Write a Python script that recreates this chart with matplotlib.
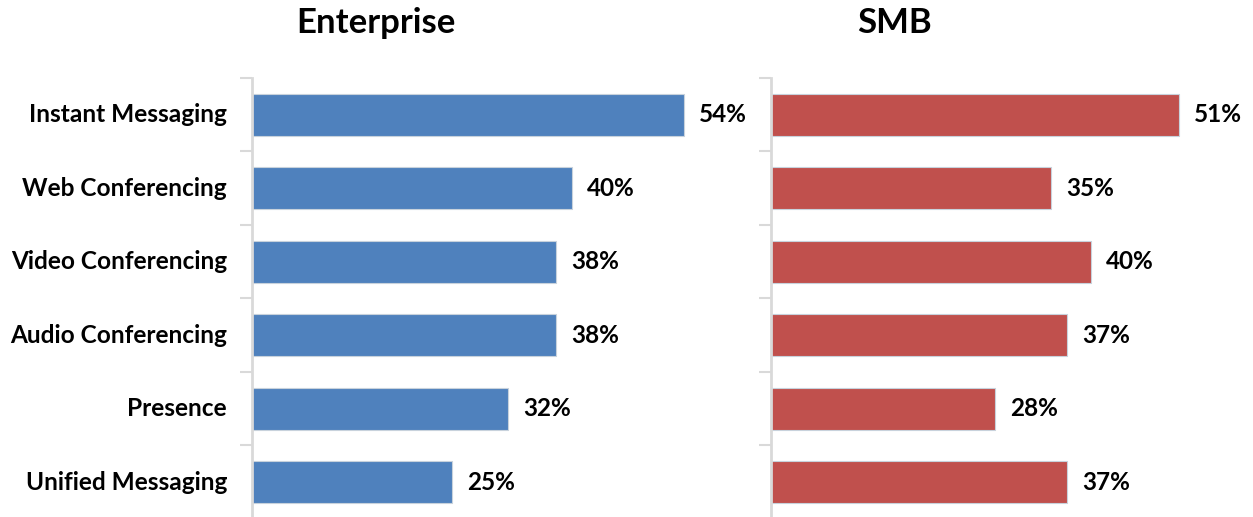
import matplotlib
matplotlib.use("Agg")
import matplotlib.pyplot as plt

categories = ["Instant Messaging", "Web Conferencing", "Video Conferencing",
              "Audio Conferencing", "Presence", "Unified Messaging"]
enterprise = [54, 40, 38, 38, 32, 25]
smb = [51, 35, 40, 37, 28, 37]

plt.rcParams["font.family"] = ["Lato", "DejaVu Sans"]

W, H = 1253, 517
fig = plt.figure(figsize=(W / 100, H / 100), dpi=100)


def panel(x0, values, color, show_labels):
    ax = fig.add_axes([x0 / W, (H - 519) / H, 480 / W, (519 - 78) / H])
    n = len(values)
    ys = list(range(n))
    ax.barh(ys, values, height=0.57, color=color, edgecolor="#c8d2dc", linewidth=0.8)
    ax.set_xlim(0, 60)
    ax.set_ylim(n - 0.5, -0.5)
    for y, v in zip(ys, values):
        ax.text(v + 1.85, y, f"{v}%", va="center", ha="left",
                fontsize=17.5, fontweight="bold", color="black")
    for s in ["top", "right", "bottom"]:
        ax.spines[s].set_visible(False)
    ax.spines["left"].set_color("#d9d9d9")
    ax.spines["left"].set_linewidth(2)
    ax.set_xticks([])
    ax.set_yticks([i - 0.5 for i in range(n + 1)])
    ax.set_yticklabels([])
    ax.tick_params(axis="y", length=9, width=1.5, color="#d9d9d9", direction="out")
    if show_labels:
        for y, c in zip(ys, categories):
            ax.text(-60 * 25 / 480, y, c, ha="right", va="center",
                    fontsize=17.6, fontweight="bold", color="black")
    return ax


panel(252, enterprise, "#4f81bd", True)
panel(771, smb, "#c0504d", False)

fig.text(376 / W, 1 - 23 / H, "Enterprise", ha="center", va="center",
         fontsize=25, fontweight="bold")
fig.text(895 / W, 1 - 23 / H, "SMB", ha="center", va="center",
         fontsize=25, fontweight="bold")

fig.savefig("out.png", dpi=100, facecolor="white")
